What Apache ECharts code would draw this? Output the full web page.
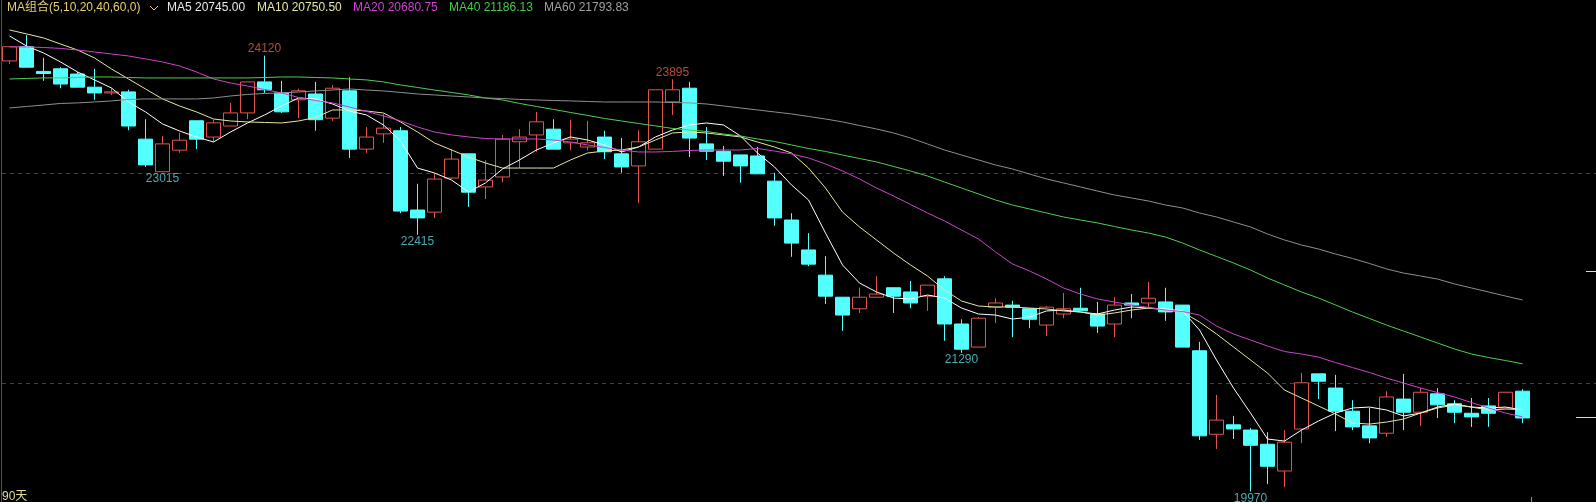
<!DOCTYPE html>
<html>
<head>
<meta charset="utf-8">
<script src="https://cdn.jsdelivr.net/npm/echarts@6/dist/echarts.min.js"></script>
<style>
html,body{margin:0;padding:0;background:#000;}
#main{width:1596px;height:502px;}
</style>
</head>
<body>
<div id="main"></div>
<script>
// ---- data ----
const categories = Array.from({length: 90}, (_, i) => 'D' + (i + 1));

const opens = [24070,24205,23970,23995,23945,23820,23765,23775,23325,23015,
23220,23500,23345,23450,23575,23870,23765,23700,23755,23525,
23785,23230,23375,23405,22650,22630,22955,23185,22870,22965,
23300,23365,23420,23290,23250,23345,23185,23070,23230,23680,
23810,23280,23210,23175,23165,22925,22555,22270,22030,21820,
21710,21820,21910,21870,21830,21995,21565,21345,21725,21745,
21710,21555,21660,21715,21660,21565,21765,21765,21775,21745,
21310,20515,20605,20555,20420,20165,20565,21090,20955,20735,
20595,20525,20850,20725,20900,20805,20715,20785,20765,20925];

const closes = [24205,24010,23950,23850,23820,23765,23775,23450,23080,23280,
23315,23325,23480,23575,23870,23795,23585,23785,23510,23810,
23230,23345,23430,22640,22575,22945,23135,22820,22935,23325,
23345,23490,23230,23325,23290,23205,23060,23300,23795,23795,
23335,23210,23115,23070,22995,22575,22335,22135,21830,21650,
21820,21850,21830,21765,21935,21565,21325,21620,21765,21725,
21610,21725,21710,21690,21545,21745,21745,21810,21680,21345,
20500,20650,20565,20410,20210,20440,21005,21020,20735,20585,
20480,20870,20725,20915,20795,20725,20680,20715,20915,20670];

const highs = [24205,24315,24100,24010,23965,23995,23810,23795,23515,23355,
23385,23500,23510,23670,23870,24120,23880,23805,23870,23840,
23915,23440,23565,23440,22900,22995,23230,23185,23125,23365,
23420,23585,23515,23510,23500,23405,23335,23410,23795,23895,
23870,23440,23260,23175,23250,23005,22620,22430,22210,21820,
21910,22020,21910,21975,21935,22020,21610,21630,21810,21785,
21710,21735,21860,21910,21775,21820,21850,21965,21910,21745,
21395,20890,20690,20575,20535,20555,21100,21090,21080,20840,
20765,20925,21090,20955,20955,20840,20860,20860,20915,20945];

const lows = [24040,24010,23880,23810,23820,23700,23745,23410,23060,23015,
23195,23230,23300,23450,23515,23765,23575,23525,23405,23500,
23145,23195,23290,22620,22415,22575,22945,22680,22755,22915,
23050,23205,23230,23220,23220,23135,23005,22715,23230,23555,
23155,23125,22975,22910,22995,22500,22205,22115,21755,21500,
21670,21820,21670,21715,21690,21405,21290,21345,21575,21440,
21525,21450,21620,21690,21480,21440,21620,21715,21595,21345,
20460,20375,20470,19970,20040,20010,20430,20850,20545,20555,
20430,20490,20555,20595,20670,20620,20585,20585,20765,20620];

const ma5 = [24308,24212,24146,24060,23965,23889,23812,23679,23584,23470,
23403,23346,23298,23393,23479,23555,23641,23717,23708,23660,
23593,23555,23460,23308,23050,23003,22936,22822,22908,23041,
23127,23222,23289,23346,23317,23270,23203,23250,23346,23412,
23460,23479,23460,23355,23193,23060,22889,22746,22431,22127,
21955,21870,21812,21803,21841,21812,21717,21660,21650,21612,
21631,21689,21698,21679,21660,21698,21727,21717,21708,21689,
21508,21222,20955,20717,20470,20450,20555,20641,20717,20765,
20774,20746,20689,20717,20774,20803,20774,20765,20774,20745];

const ma10 = [24365,24327,24289,24231,24174,24098,23993,23898,23803,23708,
23641,23584,23517,23498,23489,23484,23479,23498,23531,23603,
23603,23593,23574,23489,23393,23289,23222,23155,23098,23050,
23050,23050,23050,23127,23193,23212,23222,23250,23317,23384,
23393,23384,23365,23346,23298,23250,23193,23050,22860,22631,
22489,22365,22241,22127,22022,21889,21784,21736,21727,21727,
21717,21708,21689,21679,21650,21670,21698,21717,21698,21679,
21584,21470,21346,21222,21098,20936,20860,20784,20708,20622,
20612,20631,20660,20717,20765,20793,20774,20746,20755,20750.5];

const ma20 = [24203,24203,24198,24189,24174,24155,24136,24117,24089,24060,
24022,23965,23898,23860,23831,23798,23765,23722,23693,23670,
23631,23589,23546,23498,23441,23393,23365,23346,23331,23327,
23327,23327,23317,23298,23270,23246,23222,23203,23203,23208,
23217,23222,23222,23222,23236,23212,23184,23146,23089,23022,
22946,22860,22784,22703,22622,22546,22460,22374,22251,22136,
22070,21993,21908,21850,21803,21774,21746,21722,21698,21684,
21650,21546,21470,21412,21355,21303,21279,21250,21198,21150,
21103,21050,21003,20955,20912,20870,20817,20765,20717,20680.75];

const ma40 = [23898,23903,23908,23908,23912,23917,23917,23912,23908,23908,
23908,23908,23908,23908,23908,23912,23917,23917,23912,23908,
23898,23889,23870,23841,23817,23793,23770,23746,23717,23698,
23665,23636,23608,23579,23551,23522,23498,23474,23451,23427,
23412,23398,23374,23355,23327,23303,23270,23236,23208,23174,
23141,23108,23065,23022,22974,22917,22860,22803,22746,22698,
22660,22622,22584,22555,22527,22493,22460,22431,22393,22336,
22270,22208,22146,22079,22003,21936,21870,21812,21746,21679,
21617,21555,21498,21441,21384,21327,21279,21246,21217,21186.13];

const ma60 = [23622,23636,23650,23665,23670,23679,23689,23703,23708,23708,
23708,23708,23717,23736,23751,23760,23765,23774,23784,23793,
23803,23793,23784,23770,23755,23746,23736,23727,23717,23712,
23703,23698,23693,23689,23684,23679,23679,23679,23679,23674,
23670,23660,23641,23622,23603,23584,23565,23541,23517,23489,
23455,23422,23384,23336,23279,23222,23174,23127,23079,23041,
22993,22946,22908,22870,22831,22793,22765,22736,22698,22670,
22622,22584,22536,22489,22422,22365,22317,22279,22231,22189,
22141,22089,22050,22022,21993,21946,21908,21870,21831,21793.83];

// labelled extremes: [candle index, price, 'high'|'low']
const extremeIdx   = [15, 9, 24, 39, 56, 73];
const extremeVal   = [24120, 23015, 22415, 23895, 21290, 19970];
const extremeKind  = ['high','low','low','high','low','low'];

const gridLevels = [23000, 21000];
const rightMarks = [22070, 20680];
const maNames = ['MA5','MA10','MA20','MA40','MA60'];
const maLast  = ['20745.00','20750.50','20680.75','21186.13','21793.83'];

// ---- styles ----
const UP = '#e0544c', DOWN = '#54ffff';
const maColors = ['#ffffff', '#e6e6a2', '#cc44cc', '#4fcf4f', '#8e8e8e'];
const maTextColors = ['#e8e8e8', '#e6e6a2', '#d040d0', '#46c846', '#a0a0a0'];
const FONT = '"Liberation Sans", Arial, "Noto Sans CJK SC", sans-serif';

const candleData = opens.map((o, i) => [o, closes[i], lows[i], highs[i]]);
const maArrays = [ma5, ma10, ma20, ma40, ma60];

const chart = echarts.init(document.getElementById('main'), null, {renderer: 'canvas'});

const headerX = [167, 257, 353, 449, 544];
const graphics = [
  {type:'line', shape:{x1:1.5,y1:0,x2:1.5,y2:502}, style:{stroke:'#b02c2c', lineWidth:1}, z:50},
  {type:'text', x:7, y:8, style:{text:'MA组合(5,10,20,40,60,0)', fill:'#e6cf6e', font:'12px ' + FONT, textVerticalAlign:'middle'}, z:50},
  {type:'polyline', shape:{points:[[150,6],[154,10],[158,6]]}, style:{stroke:'#e6cf6e', lineWidth:1, fill:null}, z:50},
  {type:'text', x:2, y:497, style:{text:'90天', fill:'#e0dc96', font:'12px ' + FONT, textVerticalAlign:'middle'}, z:50}
];
maNames.forEach((n, k) => {
  graphics.push({type:'text', x:headerX[k], y:8,
    style:{text:n + ' ' + maLast[k], fill:maTextColors[k], font:'12px ' + FONT, textVerticalAlign:'middle'}, z:50});
});

const series = [
  {
    type: 'candlestick',
    data: candleData,
    barWidth: 15,
    itemStyle: {
      color: '#000000', color0: DOWN,
      borderColor: UP, borderColor0: DOWN,
      borderColorDoji: UP,
      borderWidth: 1
    },
    z: 2
  },
  {
    type: 'scatter',
    symbolSize: 0,
    silent: true,
    z: 20,
    data: extremeIdx.map((idx, k) => ({
      value: [idx, extremeVal[k]],
      label: {
        show: true,
        position: extremeKind[k] === 'high' ? 'top' : 'bottom',
        distance: 1,
        formatter: String(extremeVal[k]),
        color: extremeKind[k] === 'high' ? '#e85a50' : '#5ad6dc',
        fontSize: 12,
        fontFamily: FONT
      }
    }))
  }
];
maNames.forEach((n, k) => {
  series.push({
    type: 'line', name: n, data: maArrays[k], showSymbol: false, symbol: 'none',
    smooth: false, z: 13,
    lineStyle: {color: maColors[k], width: 1},
    silent: true
  });
});

chart.setOption({
  backgroundColor: '#000000',
  animation: false,
  grid: {left: 1, top: 0, width: 1530, height: 502, containLabel: false},
  xAxis: {
    type: 'category', data: categories, boundaryGap: true,
    axisLine: {show: false}, axisLabel: {show: false},
    splitLine: {show: false},
    axisTick: {show: true, inside: true, length: 5, interval: (i) => i === 89,
               lineStyle: {color: '#8a8a8a'}}
  },
  yAxis: {
    type: 'value', min: 19870, max: 24650, scale: true,
    axisLine: {show: false}, axisLabel: {show: false}, axisTick: {show: false},
    splitLine: {show: false}
  },
  graphic: graphics,
  series: series
});

// full-width dashed level lines and short right-edge markers, placed through the y axis scale
const extra = [];
gridLevels.forEach(v => {
  const y = Math.round(chart.convertToPixel({yAxisIndex: 0}, v)) + 0.5;
  extra.push({type:'line', shape:{x1:2, y1:y, x2:1596, y2:y},
    style:{stroke:'#8a2424', lineWidth:1, lineDash:[4,4]}, z:1});
});
rightMarks.forEach((v, k) => {
  const y = Math.round(chart.convertToPixel({yAxisIndex: 0}, v)) + 0.5;
  const x1 = k === 0 ? 1586 : 1576;
  extra.push({type:'line', shape:{x1:x1, y1:y, x2:1596, y2:y}, style:{stroke:'#e0e0a0', lineWidth:1}, z:50});
});
chart.setOption({graphic: graphics.concat(extra)});
</script>
</body>
</html>
